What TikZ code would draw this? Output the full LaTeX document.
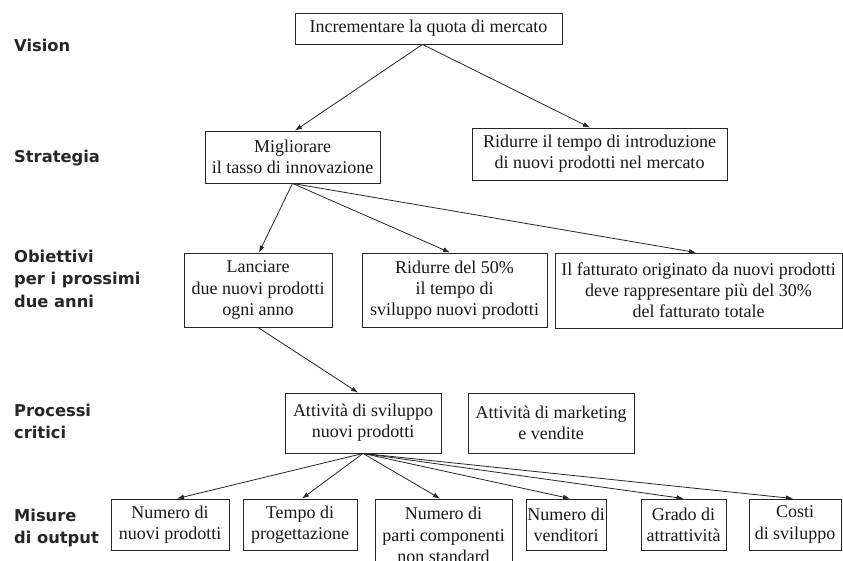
\documentclass[tikz,border=0pt]{standalone}
\usepackage{fontspec}
\setmainfont{Liberation Serif}
\newfontfamily\lblfont{DejaVu Sans}
\usetikzlibrary{arrows.meta}
\tikzset{
  box/.style={draw=black!85, line width=0.9pt, rectangle, inner sep=0pt, align=center,
    font=\fontsize{18}{21.2}\selectfont, text=black!90},
  lbl/.style={anchor=base west, inner sep=0pt, font=\lblfont\bfseries\fontsize{16.3}{22.5}\selectfont, text=black!85},
  conn/.style={draw=black!85, line width=0.8pt, -{Latex[length=7pt,width=5pt]}}
}
\begin{document}
\begin{tikzpicture}[x=1pt,y=-1pt]
\useasboundingbox (0,0) rectangle (843,561);
\clip (0,0) rectangle (843,561);
\fill[white] (0,0) rectangle (843,561);
% left labels
\node[lbl] (lv) at (14,52) {Vision};
\node[lbl] (ls) at (14,163) {Strategia};
\node[lbl] (lo) at (14,262) {\begin{tabular}[t]{@{}l@{}}Obiettivi\\per i prossimi\\due anni\end{tabular}};
\node[lbl] (lp) at (14,416) {\begin{tabular}[t]{@{}l@{}}Processi\\critici\end{tabular}};
\node[lbl] (lm) at (14,521) {\begin{tabular}[t]{@{}l@{}}Misure\\di output\end{tabular}};
% boxes
\node[box, minimum width=267pt, minimum height=31pt] (top) at (428.5,28.5) {Incrementare la quota di mercato};
\node[box, minimum width=175pt, minimum height=52pt] (mig) at (292.5,157) {Migliorare\\il tasso di innovazione};
\node[box, minimum width=255pt, minimum height=52pt] (rid) at (599.5,154) {Ridurre il tempo di introduzione\\di nuovi prodotti nel mercato};
\node[box, minimum width=148pt, minimum height=74pt] (lan) at (258,290) {Lanciare\\due nuovi prodotti\\ogni anno};
\node[box, minimum width=185pt, minimum height=74pt] (r50) at (454.5,290) {Ridurre del 50\%\\il tempo di\\sviluppo nuovi prodotti};
\node[box, minimum width=287pt, minimum height=75pt] (fat) at (698.5,290.5) {Il fatturato originato da nuovi prodotti\\deve rappresentare più del 30\%\\del fatturato totale};
\node[box, minimum width=156pt, minimum height=60pt] (att) at (363,423) {Attività di sviluppo\\nuovi prodotti};
\node[box, minimum width=166pt, minimum height=60pt] (mkt) at (551,423) {Attività di marketing\\e vendite};
\node[box, minimum width=118pt, minimum height=51pt] (nn) at (170,524.5) {Numero di\\nuovi prodotti};
\node[box, minimum width=114pt, minimum height=51pt] (tp) at (300,524.5) {Tempo di\\progettazione};
\node[box, minimum width=137pt, minimum height=72pt] (pa) at (443.5,535) {Numero di\\parti componenti\\non standard};
\node[box, minimum width=80pt, minimum height=51pt] (ve) at (566,524.5) {Numero di\\venditori};
\node[box, minimum width=85pt, minimum height=51pt] (gr) at (683.5,524.5) {Grado di\\attrattività};
\node[box, minimum width=92pt, minimum height=51pt] (co) at (795,524.5) {Costi\\di sviluppo};
% connectors
\draw[conn] ([xshift=-6pt]top.south) -- ([xshift=2.5pt]mig.north);
\draw[conn] ([xshift=-6pt]top.south) -- ([xshift=-9.5pt]rid.north);
\draw[conn] (mig.south) -- ([xshift=1pt]lan.north);
\draw[conn] (mig.south) -- ([xshift=-4.5pt]r50.north);
\draw[conn] (mig.south) -- ([xshift=-2.5pt]fat.north);
\draw[conn] (lan.south) -- ([xshift=-5pt]att.north);
\draw[conn] (att.south) -- ([xshift=7pt]nn.north);
\draw[conn] (att.south) -- ([xshift=2pt]tp.north);
\draw[conn] (att.south) -- ([xshift=-3.5pt]pa.north);
\draw[conn] (att.south) -- ([xshift=4pt]ve.north);
\draw[conn] (att.south) -- (gr.north);
\draw[conn] (att.south) -- ([xshift=-2pt]co.north);
\end{tikzpicture}
\end{document}
